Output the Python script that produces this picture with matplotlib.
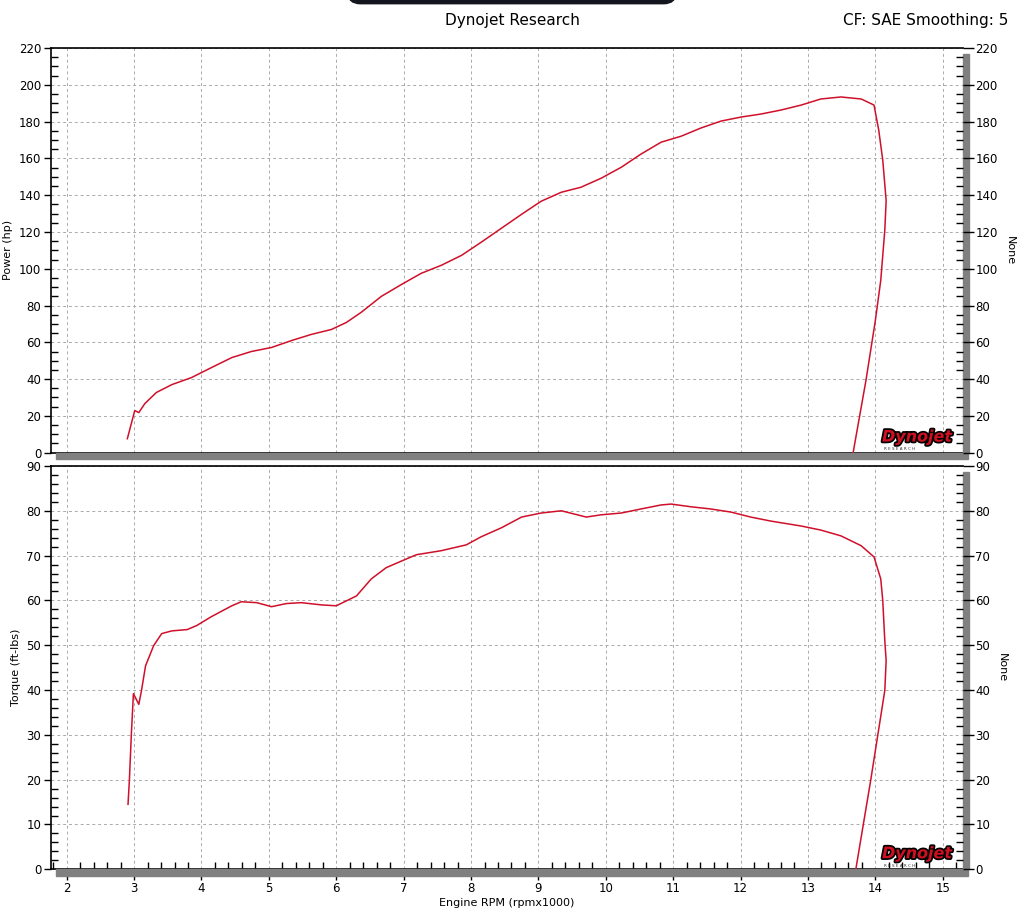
import matplotlib
matplotlib.use("Agg")
from matplotlib import pyplot as plt
from matplotlib.patches import Rectangle, FancyBboxPatch
import matplotlib.patheffects as pe
from matplotlib.ticker import MultipleLocator

# power run (rpm x1000, hp)
rpm_power = [2.90, 3.01, 3.07, 3.16, 3.33, 3.56, 3.85, 4.15, 4.45, 4.74, 5.04,
             5.34, 5.63, 5.93, 6.15, 6.37, 6.67, 6.97, 7.26, 7.56, 7.86, 8.15,
             8.45, 8.75, 9.04, 9.34, 9.63, 9.93, 10.23, 10.52, 10.82, 11.12,
             11.41, 11.71, 12.01, 12.30, 12.60, 12.90, 13.19, 13.49, 13.79,
             13.98, 14.05, 14.11, 14.16, 14.14, 14.08, 14.00, 13.86, 13.67]
power_hp = [7.6, 22.9, 21.8, 26.7, 32.7, 37.0, 40.8, 46.3, 51.7, 55.0, 57.2,
            61.0, 64.3, 67.0, 70.8, 76.3, 85.0, 91.5, 97.5, 101.9, 107.3, 114.4,
            122.0, 129.6, 136.7, 141.6, 144.3, 149.2, 155.2, 162.3, 168.8, 172.1,
            176.5, 180.3, 182.5, 184.1, 186.3, 189.0, 192.3, 193.4, 192.3,
            189.0, 175.4, 159.0, 137.0, 121.0, 93.7, 71.9, 39.2, 0.0]

# torque run (rpm x1000, ft-lbs)
rpm_torque = [2.91, 2.93, 2.96, 2.99, 3.07, 3.11, 3.17, 3.29, 3.41, 3.56, 3.79,
              3.93, 4.15, 4.45, 4.59, 4.82, 5.04, 5.26, 5.48, 5.78, 6.00, 6.30,
              6.52, 6.74, 6.97, 7.19, 7.56, 7.93, 8.15, 8.45, 8.75, 9.04, 9.34,
              9.71, 9.93, 10.23, 10.52, 10.82, 10.97, 11.26, 11.56, 11.86, 12.15,
              12.45, 12.90, 13.19, 13.49, 13.79, 13.98, 14.08, 14.11, 14.14,
              14.16, 14.14, 14.07, 13.93, 13.71]
torque_ftlb = [14.5, 19.8, 30.3, 39.2, 36.8, 39.9, 45.4, 49.9, 52.6, 53.2, 53.5,
               54.4, 56.4, 58.8, 59.7, 59.5, 58.6, 59.3, 59.5, 59.0, 58.8, 61.0,
               64.8, 67.3, 68.8, 70.2, 71.1, 72.4, 74.2, 76.2, 78.6, 79.5, 80.0,
               78.6, 79.1, 79.5, 80.4, 81.3, 81.5, 80.9, 80.4, 79.7, 78.6,
               77.7, 76.6, 75.7, 74.4, 72.2, 69.7, 64.8, 59.9, 51.0,
               46.6, 39.9, 33.2, 19.8, 0.0]

x_ticks = [2, 3, 4, 5, 6, 7, 8, 9, 10, 11, 12, 13, 14, 15]
x_lim = (1.767, 15.30)
line_col = '#d0102a'
grid_col = '#aaaaaa'

fig = plt.figure(figsize=(10.24, 9.24), dpi=100)
ax1 = fig.add_axes([0.0498, 0.5101, 0.8906, 0.4379])
ax2 = fig.add_axes([0.0498, 0.0592, 0.8906, 0.4365])


def setup(ax, ymax, ymaj, ymin, label, show_x):
    ax.set_xlim(*x_lim)
    ax.set_ylim(0, ymax)
    ax.set_xticks(x_ticks)
    ax.xaxis.set_minor_locator(MultipleLocator(0.2))
    ax.yaxis.set_major_locator(MultipleLocator(ymaj))
    ax.yaxis.set_minor_locator(MultipleLocator(ymin))
    ax.grid(True, which='major', linestyle=(0, (3, 3)), color=grid_col, linewidth=0.7)
    ax.set_ylabel(label, fontsize=8, labelpad=4)
    ax.tick_params(axis='y', which='major', direction='out', length=5, width=1,
                   labelsize=8.5, pad=2)
    ax.tick_params(axis='y', which='minor', direction='in', length=5, width=1)
    if show_x:
        ax.tick_params(axis='x', which='major', direction='out', length=8, width=1,
                       labelsize=8.5, pad=1)
        ax.tick_params(axis='x', which='minor', direction='in', length=5, width=1)
    else:
        ax.tick_params(axis='x', which='both', length=0, labelbottom=False)
    for s in ['top', 'bottom', 'left']:
        ax.spines[s].set_linewidth(1.2)
    ax.spines['right'].set_visible(False)
    # twin axis on the right
    axr = ax.twinx()
    axr.set_ylim(0, ymax)
    axr.yaxis.set_major_locator(MultipleLocator(ymaj))
    axr.yaxis.set_minor_locator(MultipleLocator(ymin))
    axr.tick_params(axis='y', which='major', direction='out', length=8, width=1,
                    labelsize=8.5, pad=1)
    axr.tick_params(axis='y', which='minor', direction='in', length=5, width=1)
    axr.set_ylabel('None', fontsize=8, rotation=270, labelpad=12)
    for s in axr.spines.values():
        s.set_visible(False)
    # gray "shadow" bars
    ax.add_patch(Rectangle((0.006, -0.016), 1.0, 0.016, transform=ax.transAxes,
                           color='#808080', clip_on=False, zorder=5))
    ax.add_patch(Rectangle((1.0, 0.0), 0.007, 0.985, transform=ax.transAxes,
                           color='#808080', clip_on=False, zorder=5))
    # logo
    t = ax.text(0.988, 0.02, 'Dynojet', transform=ax.transAxes, ha='right',
                va='bottom', fontsize=11.5, fontweight='bold', style='italic',
                color='#d01020', zorder=6)
    t.set_path_effects([pe.withStroke(linewidth=2.5, foreground='black')])
    ax.text(0.93, 0.003, 'R E S E A R C H', transform=ax.transAxes, ha='center',
            va='bottom', fontsize=3, color='#333333', zorder=6)


setup(ax1, 220, 20, 5, 'Power (hp)', False)
setup(ax2, 90, 10, 2, 'Torque (ft-lbs)', True)

ax1.plot(rpm_power, power_hp, color=line_col, linewidth=1.1, zorder=4)
ax2.plot(rpm_torque, torque_ftlb, color=line_col, linewidth=1.1, zorder=4)

ax2.set_xlabel('Engine RPM (rpmx1000)', fontsize=8, labelpad=2)

fig.text(0.5, 0.978, 'Dynojet Research', ha='center', va='center', fontsize=11)
fig.text(0.985, 0.978, 'CF: SAE Smoothing: 5', ha='right', va='center', fontsize=11)
fig.patches.append(FancyBboxPatch((0.345, 1.001), 0.31, 0.02,
                                  boxstyle='round,pad=0.005,rounding_size=0.012',
                                  transform=fig.transFigure, color='#15151f'))

fig.savefig('out.png', dpi=100)
